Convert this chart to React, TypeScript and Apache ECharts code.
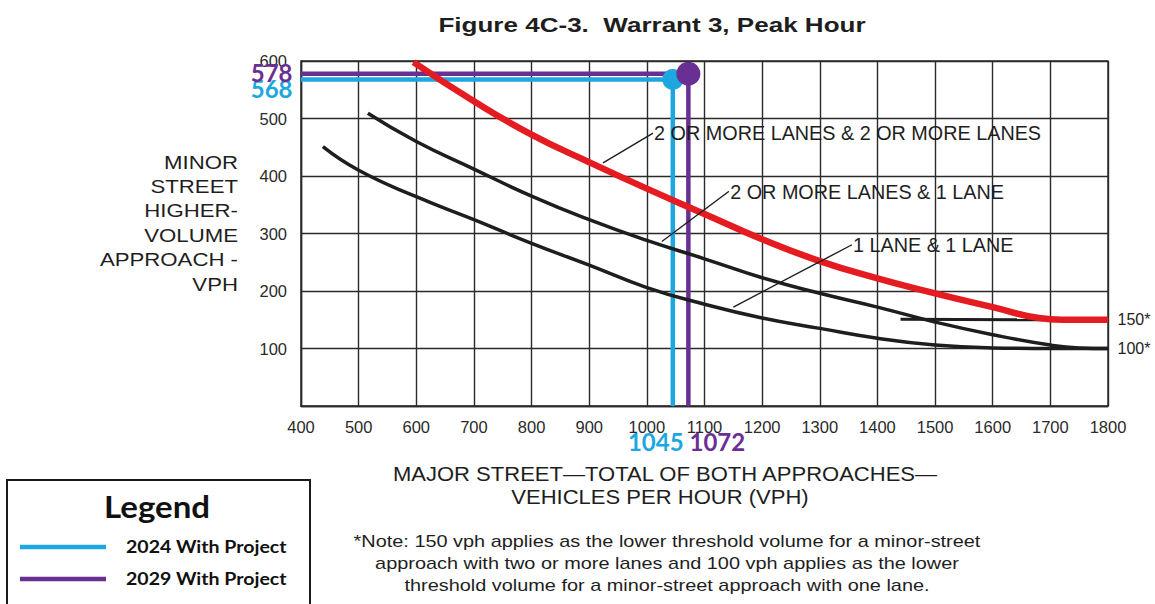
import React, { useEffect, useRef } from 'react';
import * as echarts from 'echarts';

// Axis ranges
const xMin = 400;
const xMax = 1800;
const xStep = 100;
const yMin = 0;
const yMax = 600;
const yStep = 100;

// Warrant curves (major street vph, minor street vph)
const curve2x2: number[][] = [
  [595, 598], [700, 530], [800, 472], [900, 424], [1000, 378], [1100, 334],
  [1200, 290], [1300, 252], [1400, 222], [1500, 196], [1600, 172], [1680, 153],
  [1720, 150], [1800, 150],
];
const curve2x1: number[][] = [
  [516, 509], [600, 460], [700, 412], [800, 365], [900, 324], [1000, 288],
  [1100, 256], [1200, 223], [1300, 196], [1400, 172], [1500, 146], [1600, 124],
  [1700, 106], [1750, 101], [1800, 100],
];
const curve1x1: number[][] = [
  [438, 451], [500, 410], [600, 364], [700, 324], [800, 283], [900, 245],
  [1000, 206], [1100, 177], [1200, 153], [1300, 135], [1400, 118], [1500, 106],
  [1600, 101], [1700, 100], [1800, 100],
];
const threshold150: number[][] = [[1440, 151], [1690, 150]];

// Curve labels with leader lines
const curveLabels = [
  '2 OR MORE LANES & 2 OR MORE LANES',
  '2 OR MORE LANES & 1 LANE',
  '1 LANE & 1 LANE',
];
const leaderStarts: number[][] = [[1010, 474], [1142, 373], [1355, 280]];
const leaderEnds: number[][] = [[924, 423], [1026, 286], [1150, 172]];

// Threshold labels
const thresholdLabels = ['150*', '100*'];

// Project points
const projNames = ['2024 With Project', '2029 With Project'];
const projMajor = [1045, 1072];
const projMinor = [568, 578];
const projColors = ['#1DA6E0', '#6A2F92'];

const RED = '#E51B22';
const INK = '#1e1e1e';
const SANS = '"Liberation Sans", Arial, sans-serif';
const CAL = 'Lato, "Open Sans", sans-serif';

// invisible anchor for a label on a line series point
const anchor = (color: string) => ({
  symbol: 'circle',
  symbolSize: 1,
  itemStyle: { color },
});

export default function App() {
  const ref = useRef<HTMLDivElement>(null);

  useEffect(() => {
    if (!ref.current) return;
    const chart = echarts.init(ref.current, null, { renderer: 'svg' });

    const leaderSeries = curveLabels.map((txt, i) => ({
      type: 'line',
      name: 'leader' + i,
      z: 4,
      silent: true,
      clip: false,
      symbol: 'none',
      lineStyle: { color: INK, width: 1.4 },
      data: [
        {
          value: leaderStarts[i],
          ...anchor(INK),
          label: {
            show: true,
            position: 'right',
            distance: 1,
            formatter: txt,
            color: INK,
            fontFamily: SANS,
            fontSize: 19.8,
          },
        },
        leaderEnds[i],
      ],
    }));

    const projSeries = projNames.map((name, i) => ({
      type: 'line',
      name,
      z: 2,
      clip: false,
      silent: true,
      symbol: 'none',
      lineStyle: { color: projColors[i], width: 4.5 },
      itemStyle: { color: projColors[i] },
      data: [
        {
          value: [xMin, projMinor[i]],
          ...anchor(projColors[i]),
          label: {
            show: true,
            position: 'left',
            distance: 8,
            offset: i === 0 ? [0, 9] : [0, -1],
            formatter: String(projMinor[i]),
            color: projColors[i],
            fontFamily: CAL,
            fontWeight: 'bold',
            fontSize: 24,
          },
        },
        {
          value: [projMajor[i], projMinor[i]],
          symbol: 'circle',
          symbolSize: i === 0 ? 21 : 24,
        },
        {
          value: [projMajor[i], yMin],
          ...anchor(projColors[i]),
          label: {
            show: true,
            position: 'bottom',
            distance: 23,
            offset: i === 0 ? [-17, 0] : [29, 0],
            formatter: String(projMajor[i]),
            color: projColors[i],
            fontFamily: CAL,
            fontWeight: 'bold',
            fontSize: 24,
          },
        },
      ],
    }));

    const thresholdLabel = (v: number[], txt: string, color: string) => ({
      value: v,
      ...anchor(color),
      label: {
        show: true,
        position: 'right',
        distance: 9,
        formatter: txt,
        color: INK,
        fontFamily: SANS,
        fontSize: 16,
      },
    });

    const yName = ['MINOR', 'STREET', 'HIGHER-', 'VOLUME', 'APPROACH -', 'VPH'];
    const yNameY = [163, 187, 211, 236, 260, 285];
    const note = [
      '*Note: 150 vph applies as the lower threshold volume for a minor-street',
      'approach with two or more lanes and 100 vph applies as the lower',
      'threshold volume for a minor-street approach with one lane.',
    ];
    const noteY = [541, 563, 585];

    const graphics: any[] = [
      {
        type: 'text',
        x: 652,
        y: 25,
        scaleX: 1.24,
        style: {
          text: 'Figure 4C-3.  Warrant 3, Peak Hour',
          fontFamily: SANS,
          fontWeight: 'bold',
          fontSize: 21,
          fill: INK,
          textAlign: 'center',
          textVerticalAlign: 'middle',
        },
      },
      ...yName.map((t, i) => ({
        type: 'text',
        x: 238,
        y: yNameY[i],
        scaleX: 1.2,
        style: {
          text: t,
          fontFamily: SANS,
          fontSize: 18.5,
          fill: INK,
          textAlign: 'right',
          textVerticalAlign: 'middle',
        },
      })),
      {
        type: 'text',
        x: 665,
        y: 474,
        scaleX: 1.13,
        style: {
          text: 'MAJOR STREET\u2014TOTAL OF BOTH APPROACHES\u2014',
          fontFamily: SANS,
          fontSize: 19.5,
          fill: INK,
          textAlign: 'center',
          textVerticalAlign: 'middle',
        },
      },
      {
        type: 'text',
        x: 660,
        y: 497,
        scaleX: 1.13,
        style: {
          text: 'VEHICLES PER HOUR (VPH)',
          fontFamily: SANS,
          fontSize: 19.5,
          fill: INK,
          textAlign: 'center',
          textVerticalAlign: 'middle',
        },
      },
      ...note.map((t, i) => ({
        type: 'text',
        x: 667,
        y: noteY[i],
        scaleX: 1.17,
        style: {
          text: t,
          fontFamily: SANS,
          fontSize: 17,
          fill: INK,
          textAlign: 'center',
          textVerticalAlign: 'middle',
        },
      })),
      {
        type: 'rect',
        shape: { x: 7, y: 480, width: 303, height: 140 },
        style: { fill: '#fff', stroke: '#1a1a1a', lineWidth: 2 },
      },
      {
        type: 'text',
        x: 157,
        y: 507,
        scaleX: 1.1,
        style: {
          text: 'Legend',
          fontFamily: CAL,
          fontWeight: 'bold',
          fontSize: 30,
          fill: '#111',
          textAlign: 'center',
          textVerticalAlign: 'middle',
        },
      },
      ...projNames.map((n, i) => ({
        type: 'line',
        shape: { x1: 20, y1: 547 + i * 32, x2: 106, y2: 547 + i * 32 },
        style: { stroke: projColors[i], lineWidth: 4.5 },
      })),
      ...projNames.map((n, i) => ({
        type: 'text',
        x: 126,
        y: 547 + i * 32,
        scaleX: 1.15,
        style: {
          text: n,
          fontFamily: CAL,
          fontWeight: 'bold',
          fontSize: 17,
          fill: '#111',
          textAlign: 'left',
          textVerticalAlign: 'middle',
        },
      })),
    ];

    chart.setOption({
      animation: false,
      backgroundColor: '#ffffff',
      grid: {
        left: 301,
        top: 61,
        width: 807,
        height: 345,
        show: true,
        borderColor: '#2a2a2a',
        borderWidth: 1.4,
        containLabel: false,
      },
      xAxis: {
        type: 'value',
        min: xMin,
        max: xMax,
        interval: xStep,
        axisLine: { show: true, lineStyle: { color: '#2a2a2a', width: 1.4 } },
        axisTick: { show: false },
        splitLine: { show: true, lineStyle: { color: '#2a2a2a', width: 1.4 } },
        axisLabel: {
          margin: 12,
          color: '#2a2a2a',
          fontFamily: SANS,
          fontSize: 16.5,
          formatter: (v: number) => String(v),
        },
      },
      yAxis: {
        type: 'value',
        min: yMin,
        max: yMax,
        interval: yStep,
        axisLine: { show: true, lineStyle: { color: '#2a2a2a', width: 1.4 } },
        axisTick: { show: false },
        splitLine: { show: true, lineStyle: { color: '#2a2a2a', width: 1.4 } },
        axisLabel: {
          margin: 14,
          color: '#2a2a2a',
          fontFamily: SANS,
          fontSize: 16.5,
          formatter: (v: number) => (v === 0 ? '' : String(v)),
        },
      },
      series: [
        {
          type: 'line',
          name: '1 LANE & 1 LANE',
          z: 2.5,
          silent: true,
          symbol: 'none',
          smooth: 0.5,
          lineStyle: { color: INK, width: 3.5 },
          data: [
            ...curve1x1.slice(0, -1),
            thresholdLabel(curve1x1[curve1x1.length - 1], thresholdLabels[1], INK),
          ],
        },
        {
          type: 'line',
          name: '2 OR MORE LANES & 1 LANE',
          z: 2.5,
          silent: true,
          symbol: 'none',
          smooth: 0.5,
          lineStyle: { color: INK, width: 3.5 },
          data: curve2x1,
        },
        {
          type: 'line',
          name: '150 threshold',
          z: 2.5,
          silent: true,
          symbol: 'none',
          lineStyle: { color: INK, width: 3 },
          data: threshold150,
        },
        ...projSeries,
        {
          type: 'line',
          name: '2 OR MORE LANES & 2 OR MORE LANES',
          z: 3,
          silent: true,
          symbol: 'none',
          smooth: 0.5,
          lineStyle: { color: RED, width: 6.5 },
          data: [
            ...curve2x2.slice(0, -1),
            thresholdLabel(curve2x2[curve2x2.length - 1], thresholdLabels[0], RED),
          ],
        },
        ...leaderSeries,
      ],
      graphic: graphics,
    });

    return () => chart.dispose();
  }, []);

  return (
    <div
      ref={ref}
      style={{ position: 'absolute', left: 0, top: 0, width: 1155, height: 604, background: '#fff' }}
    />
  );
}
